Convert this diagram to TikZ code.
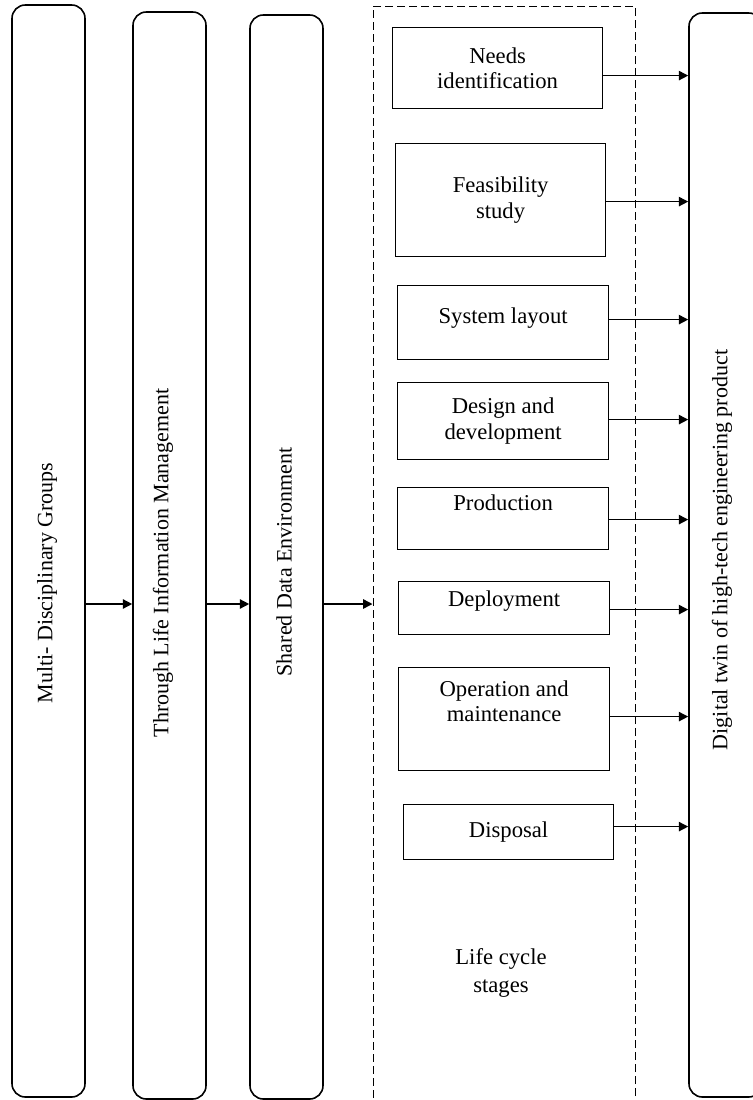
\documentclass[tikz,border=0pt]{standalone}
\usepackage{fontspec}
\setmainfont{Liberation Serif}
\usetikzlibrary{arrows.meta,calc}

\tikzset{
  column/.style={draw, line width=1.2pt, rounded corners=10pt, minimum width=54.75pt, inner sep=0pt},
  stagebox/.style={draw, line width=0.9pt, anchor=north west, inner sep=0pt, align=center, font=\fontsize{17}{19}\selectfont},
  sidetext/.style={rotate=90, font=\fontsize{16.5}{19}\selectfont},
  flow/.style={line width=1.1pt, -{Triangle[length=7pt,width=7pt]}}
}

\begin{document}
\begin{tikzpicture}[x=0.75pt,y=0.75pt,yscale=-1,xscale=1]
\useasboundingbox (0,0) rectangle (753,1100);

%Columns
\node[column, minimum height=819pt] (groups) at (48.5,551) {};
\node[column, minimum height=815.25pt] (info) at (169.5,555.5) {};
\node[column, minimum height=813pt] (sde) at (286.5,557) {};
\node[column, minimum height=813pt] (twin) at (725.5,555) {};

%Column texts
\node[sidetext] (groupstxt) at (47,583) {Multi- Disciplinary Groups};
\node[sidetext] (infotxt) at (163,563) {Through Life Information Management};
\node[sidetext] (sdetxt) at (284,562) {Shared Data Environment};
\node[sidetext] (twintxt) at (722,550) {Digital twin of high-tech engineering product};

%Dashed frame
\node[draw, dash pattern=on 6pt off 3pt, line width=0.75pt, minimum width=196.5pt, minimum height=828pt, inner sep=0pt] (stages) at (504,558) {};
\node[align=center, font=\fontsize{17}{21}\selectfont] (stagestxt) at (501,973) {Life cycle\\stages};

%Stage boxes
\node[stagebox, minimum width=157.5pt, minimum height=60.75pt] (needs) at (392,27) {Needs\\identification};
\node[stagebox, minimum width=157.5pt, minimum height=84.75pt] (feas) at (395,143) {Feasibility\\study};
\node[stagebox, minimum width=158.25pt, minimum height=55.5pt, text depth=11pt] (layout) at (397,285) {System layout};
\node[stagebox, minimum width=158.25pt, minimum height=57.75pt] (design) at (397,382) {Design and\\development};
\node[stagebox, minimum width=158.25pt, minimum height=46.5pt, text depth=24pt] (prod) at (397,487) {Production};
\node[stagebox, minimum width=158.25pt, minimum height=39.75pt, text depth=14pt] (deploy) at (398,581) {Deployment};
\node[stagebox, minimum width=158.25pt, minimum height=77.25pt, text depth=27pt] (oper) at (398,667) {Operation and\\maintenance};
\node[stagebox, minimum width=157.5pt, minimum height=41.25pt] (disp) at (403,804) {Disposal};

%Arrows
\coordinate (mid) at (0,604);
\draw[flow] (groups.east |- mid) -- (info.west |- mid);
\draw[flow] (info.east |- mid) -- (sde.west |- mid);
\draw[flow] (sde.east |- mid) -- (stages.west |- mid);

\foreach \b/\dy in {needs/7.5, feas/1.5, layout/-3, design/-1.5, prod/1, deploy/1.5, oper/-2.5, disp/-5.5}{
  \path ($(\b.east)+(0,\dy)$) coordinate (s);
  \draw[flow] (s) -- (s -| twin.west);
}

\end{tikzpicture}
\end{document}
